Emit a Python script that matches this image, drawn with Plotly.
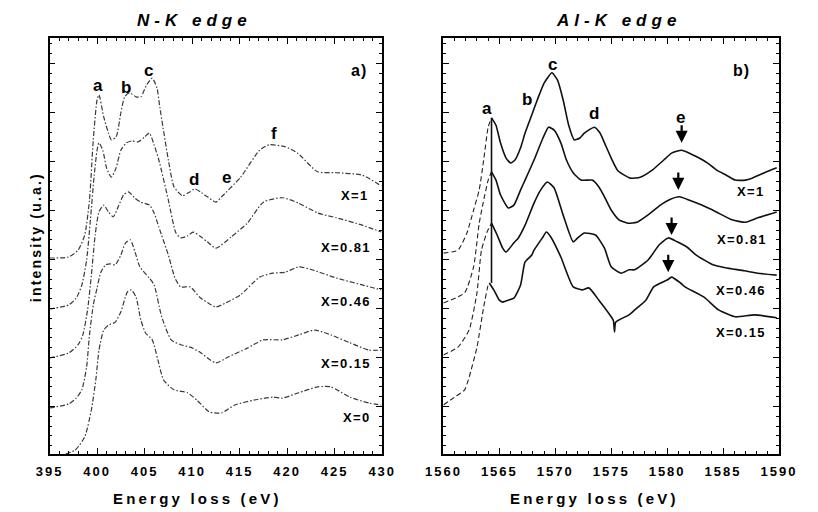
import plotly.graph_objects as go

# ---------------- data : N-K edge (left panel) ----------------
nk_x1_E = [395.0, 397.0, 398.0, 398.7, 399.2, 399.6, 400.0, 400.2, 400.7, 401.2, 401.5, 402.0, 402.5, 402.9,
           403.4, 404.1, 404.6, 405.2, 405.8, 406.3, 406.6, 407.5, 408.1, 409.0, 409.6, 410.3, 411.0, 411.6,
           412.5, 413.1, 415.1, 417.1, 418.1, 419.8, 421.1, 423.2, 425.2, 427.9, 429.9]
nk_x1_I = [4.03, 4.05, 4.19, 4.50, 5.21, 6.44, 7.26, 7.36, 6.91, 6.58, 6.44, 6.50, 6.99, 7.32,
           7.40, 7.32, 7.32, 7.56, 7.70, 7.50, 7.11, 6.03, 5.48, 5.30, 5.36, 5.44, 5.36, 5.28,
           5.17, 5.28, 5.68, 6.23, 6.34, 6.30, 6.17, 5.79, 5.77, 5.72, 5.50]

nk_x081_E = [395.0, 397.0, 397.8, 398.4, 398.9, 399.3, 399.7, 400.0, 400.2, 400.6, 401.0, 401.5, 402.0, 402.5,
             403.1, 403.7, 404.3, 405.0, 405.5, 406.0, 406.5, 407.5, 408.3, 408.8, 409.5, 410.1, 410.8, 411.6,
             412.5, 414.1, 415.8, 417.5, 419.5, 421.2, 423.2, 425.2, 427.9, 429.9]
nk_x081_I = [2.99, 3.07, 3.21, 3.48, 3.99, 4.81, 5.72, 6.23, 6.38, 6.23, 5.87, 5.68, 5.87, 6.23,
             6.38, 6.42, 6.40, 6.50, 6.58, 6.34, 6.03, 5.21, 4.54, 4.44, 4.48, 4.56, 4.48, 4.36,
             4.23, 4.46, 4.74, 5.17, 5.26, 5.15, 4.95, 4.85, 4.70, 4.56]

nk_x046_E = [395.0, 397.0, 398.0, 398.5, 399.0, 399.4, 399.8, 400.2, 400.7, 401.2, 401.7, 402.3, 402.8, 403.3,
             404.0, 404.6, 405.5, 406.0, 406.5, 407.5, 408.2, 408.8, 409.8, 410.8, 411.7, 412.5, 413.5, 415.1,
             417.1, 418.5, 419.8, 421.2, 422.6, 425.2, 427.9, 429.9]
nk_x046_I = [1.99, 2.09, 2.26, 2.46, 2.97, 3.68, 4.50, 4.97, 5.11, 4.97, 4.87, 5.11, 5.32, 5.38,
             5.25, 5.17, 5.11, 4.95, 4.66, 4.09, 3.62, 3.44, 3.44, 3.23, 3.11, 3.03, 3.11, 3.28,
             3.64, 3.72, 3.74, 3.85, 3.79, 3.62, 3.48, 3.38]

nk_x015_E = [395.0, 397.0, 397.8, 398.4, 398.9, 399.2, 399.6, 400.0, 400.4, 400.9, 401.4, 401.9, 402.5, 403.0,
             403.5, 404.0, 404.5, 405.5, 406.0, 406.8, 407.8, 408.8, 409.8, 410.8, 412.5, 413.8, 415.8, 417.5,
             419.5, 421.2, 422.9, 424.6, 426.6, 428.6, 429.9]
nk_x015_I = [0.97, 1.05, 1.17, 1.34, 1.81, 2.46, 3.07, 3.42, 3.74, 3.89, 3.91, 3.89, 4.09, 4.34,
             4.40, 4.15, 3.85, 3.62, 3.48, 2.83, 2.36, 2.26, 2.21, 2.11, 1.89, 2.01, 2.19, 2.36,
             2.36, 2.46, 2.56, 2.46, 2.30, 2.15, 2.15]

nk_x0_E = [396.7, 397.7, 398.7, 399.4, 399.9, 400.2, 400.7, 401.2, 401.9, 402.5, 403.2, 403.6, 404.1, 404.6,
           405.1, 405.8, 406.4, 407.0, 408.1, 409.5, 410.5, 411.8, 413.1, 414.5, 416.5, 418.5, 419.5, 421.2,
           423.2, 424.6, 426.6, 428.6, 429.9]
nk_x0_I = [0.03, 0.11, 0.38, 0.93, 1.60, 2.15, 2.56, 2.66, 2.72, 2.93, 3.34, 3.38, 3.23, 2.77,
           2.50, 2.36, 1.95, 1.54, 1.34, 1.28, 1.13, 0.89, 0.87, 1.03, 1.13, 1.19, 1.17, 1.28,
           1.40, 1.40, 1.19, 1.07, 1.03]

# ---------------- data : Al-K edge (right panel) ----------------
al_x1_E = [1560.0, 1561.3, 1562.1, 1562.7, 1563.2, 1563.6, 1564.0, 1564.3, 1564.7, 1565.1, 1565.6, 1566.0,
           1566.4, 1566.9, 1567.3, 1567.9, 1568.4, 1569.0, 1569.7, 1570.2, 1570.7, 1571.2, 1571.7, 1572.2,
           1572.6, 1573.5, 1574.0, 1574.4, 1575.0, 1575.6, 1576.7, 1577.6, 1578.7, 1579.7, 1580.4, 1581.3,
           1582.0, 1582.7, 1583.6, 1584.4, 1585.3, 1586.1, 1587.0, 1587.6, 1588.7, 1589.8]
al_x1_I = [4.13, 4.19, 4.54, 5.01, 5.42, 6.03, 6.70, 6.89, 6.74, 6.38, 6.07, 5.97,
           6.03, 6.28, 6.58, 6.95, 7.26, 7.60, 7.81, 7.66, 7.26, 6.74, 6.44, 6.48,
           6.58, 6.70, 6.58, 6.38, 6.07, 5.81, 5.66, 5.68, 5.83, 6.03, 6.17, 6.23,
           6.17, 6.09, 5.97, 5.83, 5.72, 5.62, 5.62, 5.66, 5.77, 5.87]

al_x081_E = [1560.0, 1561.9, 1562.7, 1563.2, 1563.6, 1564.0, 1564.3, 1564.7, 1565.1, 1565.8, 1566.3, 1566.9,
             1567.3, 1568.1, 1568.9, 1569.4, 1569.9, 1570.5, 1571.0, 1571.6, 1572.3, 1573.3, 1573.9, 1574.4,
             1575.0, 1575.7, 1576.5, 1577.3, 1578.3, 1579.4, 1580.3, 1581.1, 1582.0, 1583.1, 1584.4, 1585.8,
             1587.0, 1588.1, 1589.8]
al_x081_I = [3.11, 3.32, 3.85, 4.74, 5.21, 5.62, 5.79, 5.62, 5.32, 5.05, 5.11, 5.42,
             5.62, 6.03, 6.48, 6.70, 6.64, 6.38, 6.03, 5.77, 5.62, 5.62, 5.48, 5.28,
             5.01, 4.81, 4.74, 4.76, 4.91, 5.11, 5.23, 5.28, 5.21, 5.11, 4.97, 4.81,
             4.76, 4.85, 4.97]

al_x046_E = [1560.0, 1561.3, 1562.3, 1563.0, 1563.4, 1563.9, 1564.3, 1564.8, 1565.3, 1565.6, 1566.3, 1566.7,
             1567.3, 1568.1, 1568.7, 1569.3, 1569.9, 1570.7, 1571.6, 1572.1, 1572.6, 1573.6, 1574.4, 1575.0,
             1575.9, 1576.6, 1577.1, 1578.3, 1579.3, 1580.1, 1580.9, 1581.8, 1582.6, 1584.1, 1585.2, 1586.9,
             1588.1, 1589.8]
al_x046_I = [2.05, 2.21, 2.56, 3.32, 4.19, 4.56, 4.74, 4.50, 4.23, 4.15, 4.34, 4.44,
             4.70, 5.15, 5.42, 5.58, 5.46, 4.91, 4.36, 4.46, 4.54, 4.50, 4.23, 3.85,
             3.72, 3.79, 3.79, 3.99, 4.30, 4.44, 4.36, 4.25, 4.09, 3.89, 3.83, 3.77,
             3.72, 3.68]

al_x015_E = [1560.0, 1561.0, 1561.9, 1562.3, 1563.0, 1563.6, 1564.0, 1564.1, 1564.5, 1565.0, 1565.3, 1565.8,
             1566.3, 1566.9, 1567.3, 1567.9, 1568.1, 1568.9, 1569.2, 1569.6, 1570.5, 1571.6, 1572.4, 1573.0,
             1573.9, 1575.0, 1575.2, 1575.3, 1575.4, 1576.6, 1577.1, 1578.1, 1578.8, 1580.0, 1580.4, 1581.2,
             1581.6, 1583.3, 1584.6, 1586.1, 1587.8, 1589.8]
al_x015_I = [1.03, 1.19, 1.34, 1.60, 2.21, 3.03, 3.48, 3.52, 3.38, 3.17, 3.13, 3.17,
             3.21, 3.48, 3.95, 4.09, 4.19, 4.46, 4.56, 4.46, 4.05, 3.44, 3.38, 3.42,
             3.17, 2.83, 2.75, 2.52, 2.72, 2.87, 2.97, 3.17, 3.44, 3.58, 3.64, 3.52,
             3.44, 3.23, 2.97, 2.83, 2.87, 2.81]

al_edge_E = 1564.3          # sharp edge where the dashed onset turns solid
al_vline_I = [3.52, 6.89]   # vertical edge line extent

nk_ticks = [395, 400, 405, 410, 415, 420, 425, 430]
al_ticks = [1560, 1565, 1570, 1575, 1580, 1585, 1590]

# ---------------- styling helpers ----------------
W, H = 818, 512
FONT = "Liberation Sans, Arial, Helvetica, sans-serif"


def px(x):
    return x / W


def py(y):
    return 1 - y / H


def spaced(text, sp):
    return f'<span style="letter-spacing:{sp}px">{text}</span>'


fig = go.Figure()

nk_series = [(nk_x1_E, nk_x1_I), (nk_x081_E, nk_x081_I), (nk_x046_E, nk_x046_I),
             (nk_x015_E, nk_x015_I), (nk_x0_E, nk_x0_I)]
for E, I in nk_series:
    fig.add_trace(go.Scatter(x=E, y=I, mode="lines", xaxis="x", yaxis="y",
                             line=dict(color="#3a3a3a", width=1.2, dash="5px,2px,1.5px,2px",
                                       shape="spline", smoothing=0.6),
                             showlegend=False, hoverinfo="skip"))

al_series = [(al_x1_E, al_x1_I), (al_x081_E, al_x081_I), (al_x046_E, al_x046_I), (al_x015_E, al_x015_I)]
for E, I in al_series:
    pre_E = [e for e in E if e <= al_edge_E]
    pre_I = [i for e, i in zip(E, I) if e <= al_edge_E]
    post_E = [e for e in E if e >= pre_E[-1]]
    post_I = [i for e, i in zip(E, I) if e >= pre_E[-1]]
    fig.add_trace(go.Scatter(x=pre_E, y=pre_I, mode="lines", xaxis="x2", yaxis="y2",
                             line=dict(color="#222", width=1.1, dash="5px,3px", shape="spline", smoothing=0.5),
                             showlegend=False, hoverinfo="skip"))
    fig.add_trace(go.Scatter(x=post_E, y=post_I, mode="lines", xaxis="x2", yaxis="y2",
                             line=dict(color="#111", width=1.6, shape="spline", smoothing=0.5),
                             showlegend=False, hoverinfo="skip"))

fig.add_trace(go.Scatter(x=[al_edge_E, al_edge_E], y=al_vline_I, mode="lines", xaxis="x2", yaxis="y2",
                         line=dict(color="#111", width=1.6), showlegend=False, hoverinfo="skip"))

axis_common = dict(showline=True, linecolor="black", linewidth=1.5, mirror="allticks",
                   ticks="inside", ticklen=6, tickwidth=1.3, tickcolor="black",
                   showgrid=False, zeroline=False, fixedrange=True)
yaxis_common = dict(axis_common, range=[0.03, 8.52], tick0=0, dtick=1, showticklabels=False,
                    minor=dict(dtick=0.2, ticks="inside", ticklen=3, tickcolor="black", tickwidth=1))
tickfont = dict(family=FONT, size=13, color="black", weight="bold")

fig.update_layout(
    width=W, height=H, margin=dict(l=0, r=0, t=0, b=0),
    paper_bgcolor="white", plot_bgcolor="white",
    xaxis=dict(axis_common, domain=[px(33), px(381)], range=[395, 430], anchor="y",
               tickmode="array", tickvals=nk_ticks, ticktext=[spaced(str(t), 2) for t in nk_ticks],
               tickfont=tickfont, ticklabelstandoff=5,
               minor=dict(dtick=1, tick0=395, ticks="inside", ticklen=3, tickcolor="black", tickwidth=1)),
    yaxis=dict(yaxis_common, domain=[py(454), py(38)], anchor="x"),
    xaxis2=dict(axis_common, domain=[px(445), px(796)], range=[1560, 1590], anchor="y2",
                tickmode="array", tickvals=al_ticks, ticktext=[spaced(str(t), 2) for t in al_ticks],
                tickfont=tickfont, ticklabelstandoff=5,
                minor=dict(dtick=1, tick0=1560, ticks="inside", ticklen=3, tickcolor="black", tickwidth=1)),
    yaxis2=dict(yaxis_common, domain=[py(454), py(38)], anchor="x2"),
)

ann = []


def label(x, y, text, size, sp=0, italic=False):
    ann.append(dict(x=px(x), y=py(y), xref="paper", yref="paper", showarrow=False,
                    text=spaced(text, sp) if sp else text, xanchor="center", yanchor="middle",
                    font=dict(family=FONT, size=size, color="black", weight="bold",
                              style="italic" if italic else "normal")))


# titles
label(185, 20, "N-K edge", 17, 5, italic=True)
label(628, 20, "Al-K edge", 17, 5, italic=True)
label(188, 498, "Energy loss (eV)", 15, 3.2)
label(603, 498, "Energy loss (eV)", 15, 3.2)
ann.append(dict(x=px(19), y=py(237), xref="paper", yref="paper", showarrow=False, textangle=-90,
                text=spaced("intensity (u.a.)", 2.2), xanchor="center", yanchor="middle",
                font=dict(family=FONT, size=14, color="black", weight="bold")))

# left panel labels
for x, y, t in [(84, 85, "a"), (113, 87, "b"), (137, 70, "c"), (184, 179, "d"), (218, 177, "e"), (268, 133, "f")]:
    label(x, y, t, 17)
label(357, 70, "a)", 16, 1)
for x, y, t in [(352, 195, "X=1"), (343, 247, "X=0.81"), (343, 301, "X=0.46"), (343, 363, "X=0.15"),
                (355, 417, "X=0")]:
    label(x, y, t, 13, 1.4)

# right panel labels
for x, y, t in [(491, 108, "a"), (532, 99, "b"), (559, 64, "c"), (602, 113, "d"), (693, 117, "e")]:
    label(x, y, t, 17)
label(757, 70, "b)", 16, 1)
for x, y, t in [(767, 191, "X=1"), (757, 239, "X=0.81"), (756, 290, "X=0.46"), (756, 332, "X=0.15")]:
    label(x, y, t, 13, 1.4)

# arrows marking peak e
for e, i in [(1581.3, 6.38), (1581.0, 5.42), (1580.4, 4.50), (1580.1, 3.74)]:
    ann.append(dict(x=e, y=i, xref="x2", yref="y2", ax=0, ay=-19, showarrow=True, text="",
                    arrowhead=2, arrowsize=1.1, arrowwidth=2.2, arrowcolor="black"))

fig.update_layout(annotations=ann)
fig.write_html("out.html")
